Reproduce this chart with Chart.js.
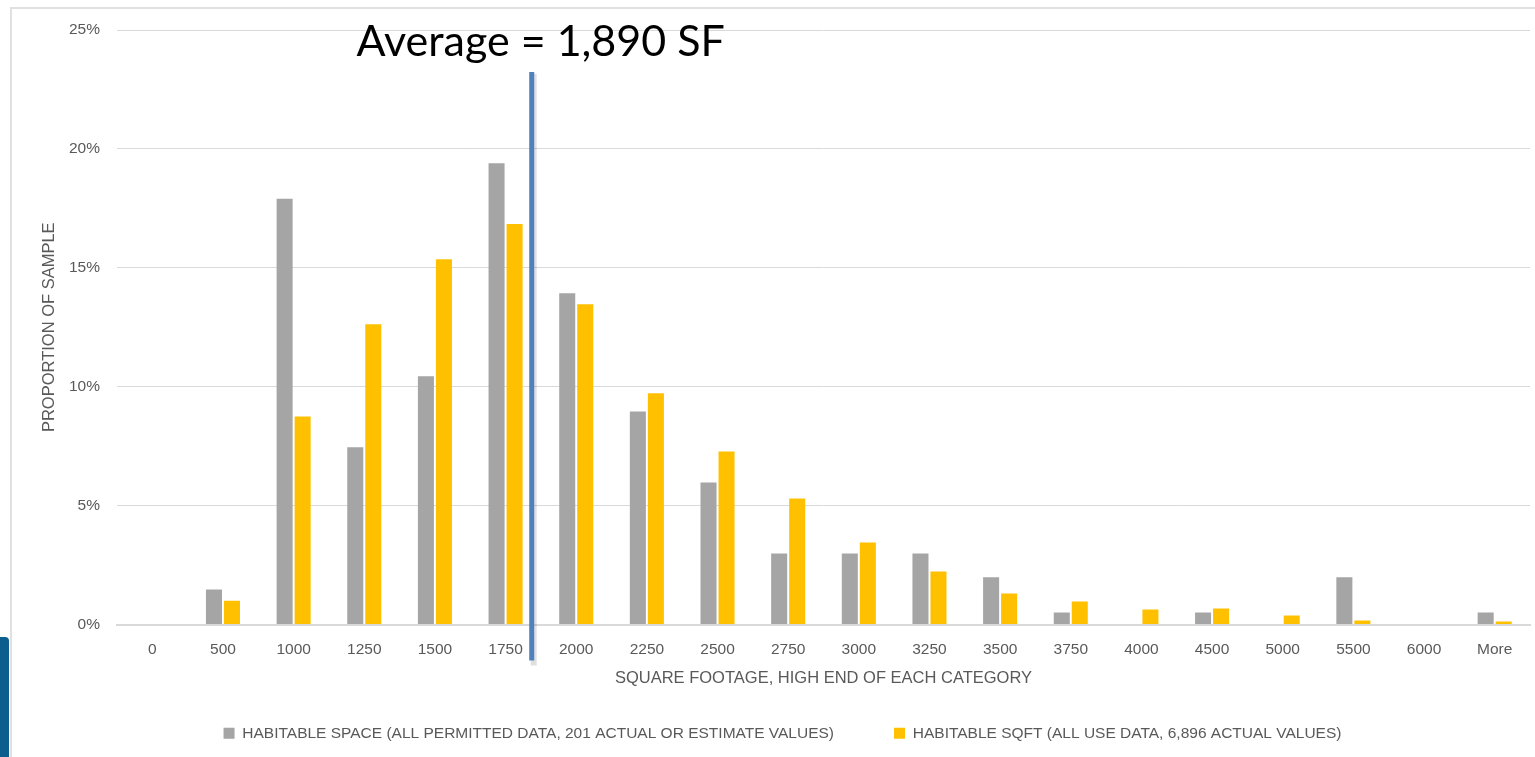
<!DOCTYPE html>
<html>
<head>
<meta charset="utf-8">
<script src="https://cdn.jsdelivr.net/npm/chart.js@4/dist/chart.umd.min.js"></script>
<style>
  html, body { margin: 0; padding: 0; background: #fff; overflow: hidden; }
  #frame { position: absolute; left: 10px; top: 7px; width: 1600px; height: 800px; border: 2px solid #e0e0e0; }
  #tab { position: absolute; left: 0; top: 637px; width: 9px; height: 120px; background: #0b5e8e; border-top-right-radius: 4px; }
  #wrap { position: absolute; left: 0; top: 0; width: 1535px; height: 757px; }
</style>
</head>
<body>
<div id="frame"></div>
<div id="tab"></div>
<div id="wrap"><canvas id="histChart"></canvas></div>
<script>
// data kategori luas bangunan (batas atas tiap kelas)
const categories = ['0', '500', '1000', '1250', '1500', '1750', '2000', '2250', '2500', '2750',
                    '3000', '3250', '3500', '3750', '4000', '4500', '5000', '5500', '6000', 'More'];
const permittedShare = [0, 1.47, 17.9, 7.45, 10.44, 19.4, 13.93, 8.96, 5.97, 2.99,
                        2.99, 2.99, 1.99, 0.5, 0, 0.5, 0, 1.99, 0, 0.5];
const useDataShare = [0, 1.0, 8.75, 12.63, 15.36, 16.84, 13.47, 9.72, 7.28, 5.3,
                      3.45, 2.23, 1.3, 0.97, 0.63, 0.67, 0.38, 0.17, 0, 0.13];
const yTicks = [0, 5, 10, 15, 20, 25];
const seriesNames = ['HABITABLE SPACE (ALL PERMITTED DATA, 201 ACTUAL OR ESTIMATE VALUES)',
                     'HABITABLE SQFT (ALL USE DATA, 6,896 ACTUAL VALUES)'];
const averageLabel = 'Average = 1,890 SF';
const averageBin = 5.37; // posisi garis rata-rata dalam satuan kategori

const fontFamily = '"Liberation Sans", Arial, sans-serif';
const textColor = '#595959';

// garis rata-rata + tulisan di atasnya
const averagePlugin = {
    id: 'averageLine',
    afterDatasetsDraw(chart) {
        const ctx = chart.ctx;
        const area = chart.chartArea;
        const x = chart.scales.x.getPixelForValue(averageBin);
        const top = area.top + 42;
        const bottom = area.bottom + 36;
        ctx.save();
        ctx.fillStyle = 'rgba(0, 0, 0, 0.12)';
        ctx.fillRect(x - 1, top + 2, 6, bottom - top + 3);
        ctx.fillStyle = '#4f81bd';
        ctx.fillRect(x - 2.5, top, 5, bottom - top);
        ctx.fillStyle = '#000';
        ctx.font = '43px Lato, sans-serif';
        ctx.textAlign = 'center';
        ctx.textBaseline = 'alphabetic';
        ctx.fillText(averageLabel, x + 9, area.top + 26);
        ctx.restore();
    }
};

new Chart(document.getElementById('histChart').getContext('2d'), {
    type: 'bar',
    data: {
        labels: categories,
        datasets: [{
            label: seriesNames[0],
            data: permittedShare,
            backgroundColor: '#a5a5a5'
        }, {
            label: seriesNames[1],
            data: useDataShare,
            backgroundColor: '#ffc000'
        }]
    },
    options: {
        responsive: true,
        maintainAspectRatio: false,
        animation: false,
        categoryPercentage: 0.51,
        barPercentage: 0.89,
        layout: { padding: { top: 30, right: 5, left: 35, bottom: 6 } },
        scales: {
            x: {
                grid: { display: false },
                border: { color: '#d9d9d9', width: 2 },
                ticks: { color: textColor, font: { family: fontFamily, size: 15.5 }, padding: 8 },
                title: {
                    display: true,
                    text: 'SQUARE FOOTAGE, HIGH END OF EACH CATEGORY',
                    color: textColor,
                    font: { family: fontFamily, size: 16.5 },
                    // judul digeser ke bawah, ke ruang yang dipakai legenda
                    padding: { top: 0, bottom: -23 }
                },
                afterFit: (scale) => { scale.height = 41; }
            },
            y: {
                min: 0,
                max: 25,
                grid: { color: '#d9d9d9', drawTicks: false },
                border: { display: false },
                afterBuildTicks: (scale) => { scale.ticks = yTicks.map(v => ({ value: v })); },
                ticks: {
                    color: textColor,
                    font: { family: fontFamily, size: 15.5 },
                    padding: 17,
                    callback: (v) => v + '%'
                },
                title: {
                    display: true,
                    text: 'PROPORTION OF SAMPLE',
                    color: textColor,
                    font: { family: fontFamily, size: 16.5 },
                    padding: { top: 5, bottom: 0 }
                },
                afterFit: (scale) => { scale.width = 82; }
            }
        },
        plugins: {
            legend: {
                position: 'bottom',
                labels: {
                    color: textColor,
                    font: { family: fontFamily, size: 15.5 },
                    boxWidth: 11,
                    boxHeight: 11,
                    padding: 60
                }
            },
            tooltip: { enabled: false }
        }
    },
    plugins: [averagePlugin]
});
</script>
</body>
</html>
